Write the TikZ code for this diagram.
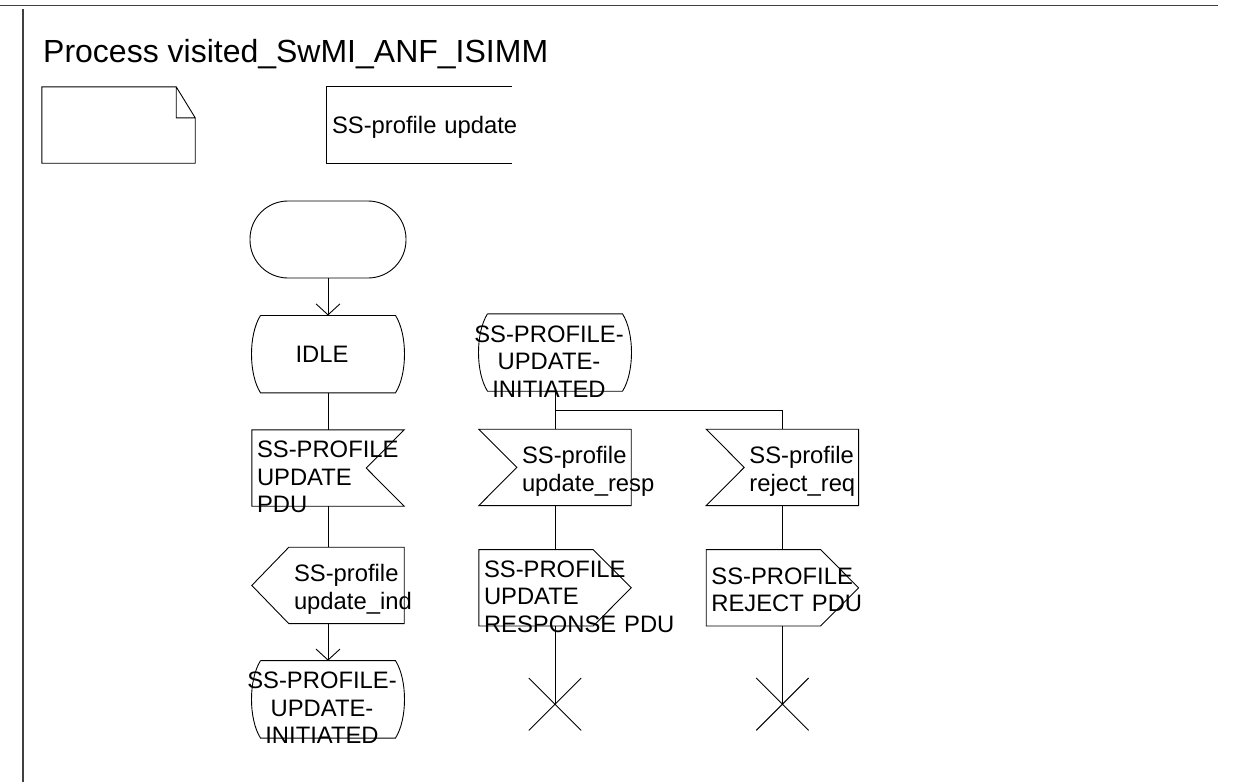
\documentclass[tikz,border=0pt]{standalone}
\usepackage{fontspec}
\setmainfont{Liberation Sans}
\usetikzlibrary{positioning,arrows.meta}
\exhyphenpenalty=10000
\hyphenpenalty=10000

\newcommand{\sdlfont}{\fontsize{23.8}{27.5}\selectfont}
\newcommand{\titlefont}{\fontsize{32}{38}\selectfont}

\begin{document}
\begin{tikzpicture}[
    x=1pt, y=-1pt,
    >={Straight Barb[length=11pt, width=24pt]},
    sdlline/.style={draw=black, line width=0.9pt},
    frameline/.style={draw=black!75, line width=1.4pt},
    twoline/.style={text height=17pt, text depth=24.5pt},
    threeline/.style={text height=17pt, text depth=38pt},
    startsym/.style={rectangle, draw=black, line width=0.9pt, rounded corners=38pt, minimum width=156pt, minimum height=77pt, inner sep=0pt},
    statesym/.style={rectangle, text width=170pt, minimum height=77pt, inner sep=0pt, align=center, font=\sdlfont,
        execute at begin node={\leftskip=0pt plus 1fil\rightskip=12pt plus 1fil\parfillskip=0pt},
        append after command={\pgfextra{\let\sdlnode\tikzlastnode
            \draw[sdlline] ([xshift=-67.5pt]\sdlnode.north) -- ([xshift=67.5pt]\sdlnode.north)
                .. controls +(12,19) and +(12,-19) .. ([xshift=67.5pt]\sdlnode.south)
                -- ([xshift=-67.5pt]\sdlnode.south)
                .. controls +(-12,-19) and +(-12,19) .. ([xshift=-67.5pt]\sdlnode.north);}}},
    sigbox/.style={rectangle, text width=152pt, minimum width=152pt, minimum height=76pt, inner sep=0pt, align=left, font=\sdlfont},
    inputR/.style={sigbox, execute at begin node={\leftskip=5pt},
        append after command={\pgfextra{\let\sdlnode\tikzlastnode
            \draw[sdlline] (\sdlnode.north west) -- (\sdlnode.north east) -- ([xshift=-38pt]\sdlnode.east)
                -- (\sdlnode.south east) -- (\sdlnode.south west) -- cycle;}}},
    inputL/.style={sigbox, execute at begin node={\leftskip=43pt},
        append after command={\pgfextra{\let\sdlnode\tikzlastnode
            \draw[sdlline] (\sdlnode.north west) -- (\sdlnode.north east) -- (\sdlnode.south east)
                -- (\sdlnode.south west) -- ([xshift=38pt]\sdlnode.west) -- cycle;}}},
    outputL/.style={sigbox, execute at begin node={\leftskip=42pt},
        append after command={\pgfextra{\let\sdlnode\tikzlastnode
            \draw[sdlline] ([xshift=37pt]\sdlnode.north west) -- (\sdlnode.north east) -- (\sdlnode.south east)
                -- ([xshift=37pt]\sdlnode.south west) -- (\sdlnode.west) -- cycle;}}},
    outputR/.style={sigbox, execute at begin node={\leftskip=5pt},
        append after command={\pgfextra{\let\sdlnode\tikzlastnode
            \draw[sdlline] (\sdlnode.north west) -- ([xshift=-38pt]\sdlnode.north east) -- (\sdlnode.east)
                -- ([xshift=-38pt]\sdlnode.south east) -- (\sdlnode.south west) -- cycle;}}},
    stopsym/.style={rectangle, minimum size=52pt, inner sep=0pt,
        append after command={\pgfextra{\let\sdlnode\tikzlastnode
            \draw[sdlline] (\sdlnode.north west) -- (\sdlnode.south east)
                (\sdlnode.north east) -- (\sdlnode.south west);}}},
    notesym/.style={rectangle, minimum width=153pt, minimum height=76pt, inner sep=0pt,
        append after command={\pgfextra{\let\sdlnode\tikzlastnode
            \draw[sdlline] (\sdlnode.north west) -- ([xshift=-19pt]\sdlnode.north east)
                -- ([yshift=-31pt]\sdlnode.north east) -- (\sdlnode.south east)
                -- (\sdlnode.south west) -- cycle
                ([xshift=-19pt]\sdlnode.north east) |- ([yshift=-31pt]\sdlnode.north east);}}},
    commentsym/.style={rectangle, text width=185pt, minimum width=185pt, minimum height=76pt, inner sep=0pt, align=left, font=\sdlfont,
        text height=17pt, text depth=-2pt, execute at begin node={\leftskip=5pt},
        append after command={\pgfextra{\let\sdlnode\tikzlastnode
            \draw[sdlline] (\sdlnode.north east) -- (\sdlnode.north west)
                -- (\sdlnode.south west) -- (\sdlnode.south east);}}}
]
\useasboundingbox (0,0) rectangle (1235,782);

% Frame and heading
\draw[frameline] (0,5.5) -- (1218,5.5);
\draw[frameline] (23,9) -- (23,782);
\node[font=\titlefont, anchor=base west, inner sep=0pt] (title) at (43,62) {Process visited\_SwMI\_ANF\_ISIMM};
\node[notesym] (note) at (118.5,125) {};
\node[commentsym] (cmt) at (419.5,125) {SS-profile~update};

% Column 1: start transition
\node[startsym] (start) at (328,239.5) {};
\node[statesym, below=37pt of start] (idle) {IDLE};
\node[inputR, threeline, below=37pt of idle] (pduin) {SS-PROFILE\\UPDATE\\PDU};
\node[outputL, twoline, below=41pt of pduin] (indout) {SS-profile\\update\_ind};
\node[statesym, threeline, below=37pt of indout] (final) {SS-PROFILE-\\UPDATE-\\INITIATED};

% Column 2: waiting for the response
\node[statesym, threeline] (pending) at (555,352.5) {SS-PROFILE-\\UPDATE-\\INITIATED};
\node[inputL, twoline, below=38pt of pending] (respin) {SS-profile\\update\_resp};
\node[outputR, threeline, below=44pt of respin] (respout) {SS-PROFILE\\UPDATE\\RESPONSE~PDU};
\node[stopsym, below=52pt of respout] (stop1) {};

% Column 3: rejection
\node[inputL, twoline, right=75pt of respin] (rejectin) {SS-profile\\reject\_req};
\node[outputR, twoline, below=44pt of rejectin] (rejectout) {SS-PROFILE\\REJECT~PDU};
\node[stopsym, below=52pt of rejectout] (stop2) {};

% Flow lines
\draw[sdlline, ->] (start) -- (idle);
\draw[sdlline] (idle) -- (pduin);
\draw[sdlline] (pduin) -- (indout);
\draw[sdlline, ->] (indout) -- (final);
\draw[sdlline] (pending) -- (respin);
\draw[sdlline] (pending.south) -- ++(0,19) -| (rejectin.north);
\draw[sdlline] (respin) -- (respout);
\draw[sdlline] (respout) -- (stop1.center);
\draw[sdlline] (rejectin) -- (rejectout);
\draw[sdlline] (rejectout) -- (stop2.center);

\end{tikzpicture}
\end{document}
